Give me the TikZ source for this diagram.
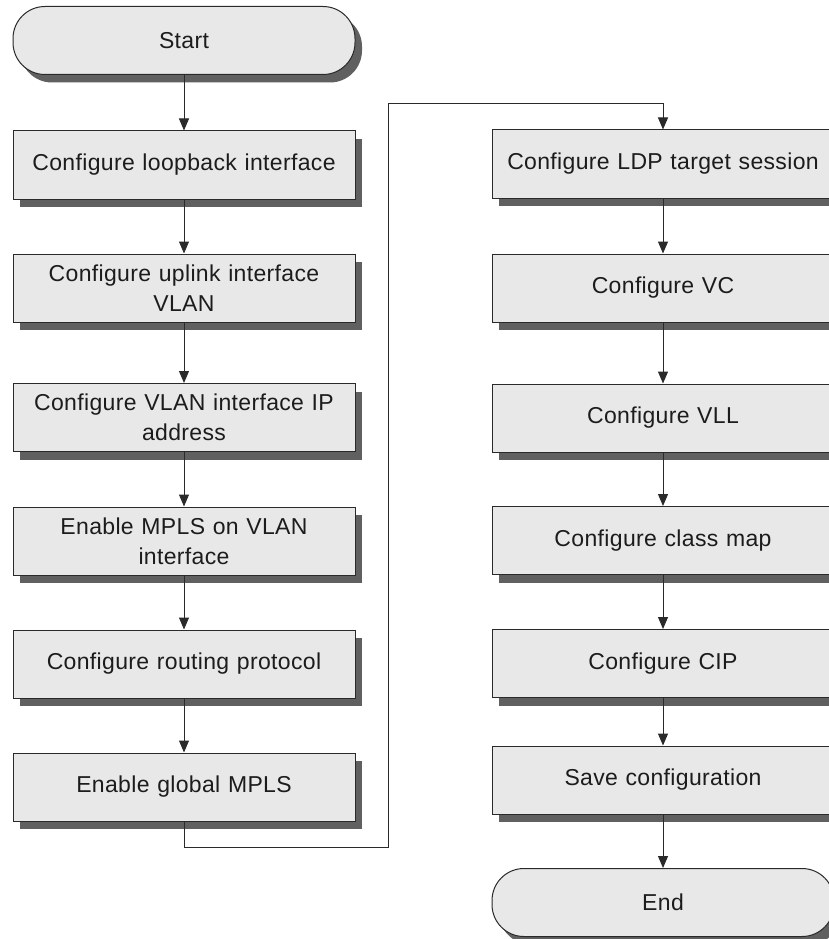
\documentclass[tikz,border=0pt]{standalone}
\usepackage{fontspec}
\setmainfont[LetterSpace=1.5]{Liberation Sans}
\usetikzlibrary{arrows.meta,shadows,positioning}
\definecolor{boxfill}{HTML}{E8E8E8}
\definecolor{shade}{HTML}{606060}
\definecolor{edge}{HTML}{2A2A2A}
\definecolor{ink}{HTML}{1C1C1C}
\tikzset{
  stepbox/.style={draw=edge, line width=1pt, fill=boxfill,
    minimum width=342pt, minimum height=68pt, inner sep=0pt,
    text width=336pt, align=center, text=ink,
    font=\fontsize{23}{30}\selectfont,
    drop shadow={shadow xshift=7pt, shadow yshift=-8pt, fill=shade, opacity=1}},
  term/.style={stepbox, rounded corners=32pt},
  flow/.style={draw=edge, line width=1pt, -{Triangle[length=12pt,width=10pt]}}
}
\begin{document}
\begin{tikzpicture}[x=1pt,y=-1pt]
\clip (0,0) rectangle (829,939);
\fill[white] (0,0) rectangle (829,939);

% left column
\node[term]    (start)    at (184,40.5)  {Start};
\node[stepbox] (loop)     at (184,165)   {Configure loopback interface};
\node[stepbox] (uplink)   at (184,288)   {Configure uplink interface\\VLAN};
\node[stepbox] (vlanip)   at (184,417.5) {Configure VLAN interface IP\\address};
\node[stepbox] (mplsvlan) at (184,541)   {Enable MPLS on VLAN\\interface};
\node[stepbox] (routing)  at (184,664)   {Configure routing protocol};
\node[stepbox] (global)   at (184,787)   {Enable global MPLS};

% right column
\node[stepbox] (ldp)      at (663,164)   {Configure LDP target session};
\node[stepbox] (vc)       at (663,288)   {Configure VC};
\node[stepbox] (vll)      at (663,418)   {Configure VLL};
\node[stepbox] (classmap) at (663,540.5) {Configure class map};
\node[stepbox] (cip)      at (663,663.5) {Configure CIP};
\node[stepbox] (save)     at (663,780)   {Save configuration};
\node[term]    (end)      at (663,902.5) {End};

% bends of the column change-over
\coordinate (bendlow)  at (388,847);
\coordinate (bendhigh) at (388,104);

\draw[flow] (start) -- (loop);
\draw[flow] (loop) -- (uplink);
\draw[flow] (uplink) -- (vlanip);
\draw[flow] (vlanip) -- (mplsvlan);
\draw[flow] (mplsvlan) -- (routing);
\draw[flow] (routing) -- (global);
\draw[flow] (global.south) |- (bendlow) -- (bendhigh) -| (ldp.north);
\draw[flow] (ldp) -- (vc);
\draw[flow] (vc) -- (vll);
\draw[flow] (vll) -- (classmap);
\draw[flow] (classmap) -- (cip);
\draw[flow] (cip) -- (save);
\draw[flow] (save) -- (end);
\end{tikzpicture}
\end{document}
